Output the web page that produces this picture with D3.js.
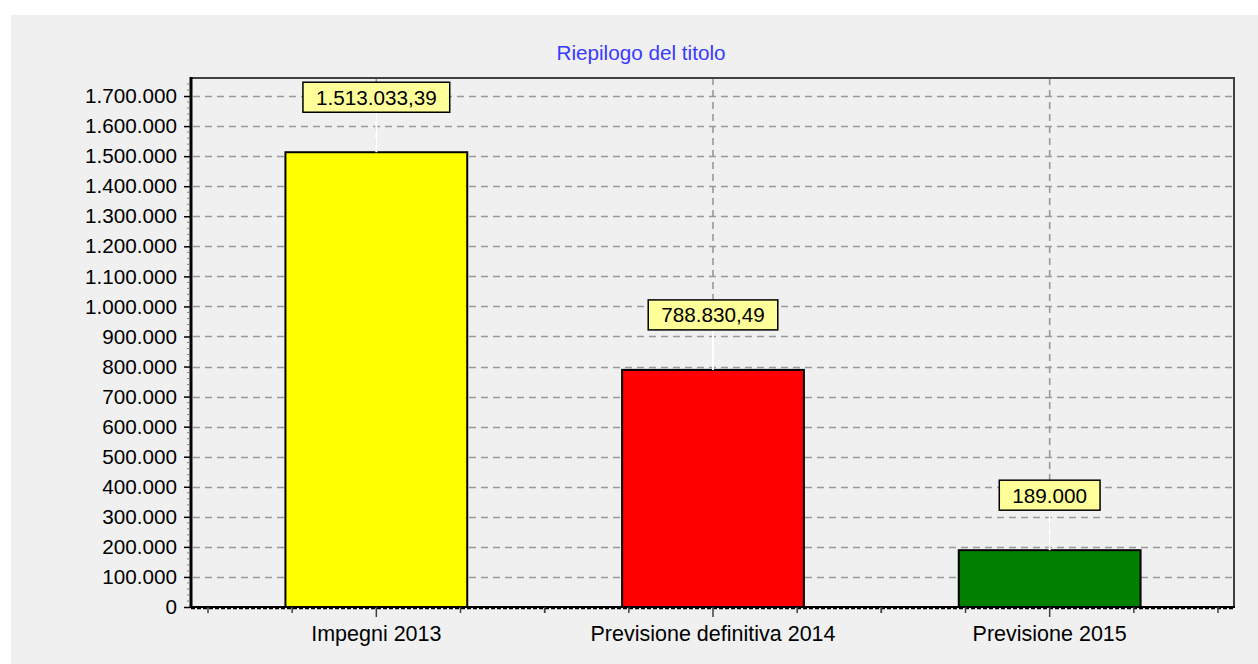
<!DOCTYPE html>
<html><head><meta charset="utf-8">
<script src="https://cdn.jsdelivr.net/npm/d3@7"></script>
<style>body{margin:0;background:#fff;} svg{display:block;} text{font-family:"Liberation Sans",Arial,sans-serif;}</style>
</head><body>
<svg id="c" width="1258" height="664"></svg>
<script>
const title = "Riepilogo del titolo";
const categories = ["Impegni 2013", "Previsione definitiva 2014", "Previsione 2015"];
const values = [1513033.39, 788830.49, 189000];
const valueLabels = ["1.513.033,39", "788.830,49", "189.000"];
const barColors = ["#ffff00", "#ff0000", "#008000"];
const yTicks = [0,100000,200000,300000,400000,500000,600000,700000,800000,900000,1000000,1100000,1200000,1300000,1400000,1500000,1600000,1700000];
const yTickLabels = ["0","100.000","200.000","300.000","400.000","500.000","600.000","700.000","800.000","900.000","1.000.000","1.100.000","1.200.000","1.300.000","1.400.000","1.500.000","1.600.000","1.700.000"];

const svg = d3.select("#c");
const fs = 20.7;
svg.append("rect").attr("x",11).attr("y",15).attr("width",1247).attr("height",649).attr("fill","#f0f0f0");

const L=191, T=78, R=1234, B=607;
const y = d3.scaleLinear().domain([0,1760000]).range([B,T]);
const x = d3.scaleBand().domain(categories).range([208,1218]).paddingInner(0).paddingOuter(0);
const bw = x.bandwidth()*0.54;

svg.append("text").attr("x",641).attr("y",60).attr("text-anchor","middle")
  .attr("fill","#3a3aff").attr("font-size",fs).text(title);

// horizontal gridlines
svg.append("g").selectAll("line").data(yTicks.slice(1)).join("line")
  .attr("x1",L+2).attr("x2",R-2).attr("y1",d=>Math.round(y(d))+0.5).attr("y2",d=>Math.round(y(d))+0.5)
  .attr("stroke","#999").attr("stroke-width",1.6).attr("stroke-dasharray","7,5");
// vertical gridlines at category centers
svg.append("g").selectAll("line").data(categories).join("line")
  .attr("x1",d=>x(d)+x.bandwidth()/2).attr("x2",d=>x(d)+x.bandwidth()/2)
  .attr("y1",T).attr("y2",B)
  .attr("stroke","#999").attr("stroke-width",1.6).attr("stroke-dasharray","7,5");

// bars
svg.append("g").selectAll("rect").data(values).join("rect")
  .attr("x",(d,i)=>x(categories[i])+x.bandwidth()/2-bw/2)
  .attr("y",d=>y(d)).attr("width",bw).attr("height",d=>B-y(d))
  .attr("fill",(d,i)=>barColors[i]).attr("stroke","#000").attr("stroke-width",2);

// plot frame
svg.append("path").attr("d",`M${L},${T}H${R}V${B}`).attr("fill","none").attr("stroke","#404040").attr("stroke-width",2);
svg.append("line").attr("x1",L).attr("x2",L).attr("y1",T-1).attr("y2",B+1).attr("stroke","#000").attr("stroke-width",3);
svg.append("line").attr("x1",L).attr("x2",R+1).attr("y1",B).attr("y2",B).attr("stroke","#000").attr("stroke-width",2);
svg.append("line").attr("x1",L).attr("x2",R+1).attr("y1",B+1.5).attr("y2",B+1.5).attr("stroke","#000").attr("stroke-width",1.5).attr("stroke-dasharray","4,2");

// y axis ticks
const yAxis = d3.axisLeft(y).tickValues(yTicks).tickFormat((d,i)=>yTickLabels[i]).tickSize(6).tickPadding(7);
const ga = svg.append("g").attr("transform",`translate(${L-1},0)`).call(yAxis);
ga.select(".domain").remove();
ga.selectAll("line").attr("stroke","#000").attr("stroke-width",1.5);
ga.selectAll("text").attr("font-size",fs).attr("fill","#000").attr("font-family","Liberation Sans, Arial, sans-serif");
// minor y ticks
const minor = d3.range(0,1760000,20000).filter(v=>v%100000!==0);
svg.append("g").selectAll("line").data(minor).join("line")
  .attr("x1",L-4).attr("x2",L-1).attr("y1",d=>y(d)).attr("y2",d=>y(d)).attr("stroke","#808080").attr("stroke-width",1);

// x axis ticks
const xMinor = [];
categories.forEach(c=>{ for(let k=0;k<=4;k++){ if(k!==2) xMinor.push(x(c)+x.bandwidth()*k/4); } });
svg.append("g").selectAll("line").data(xMinor).join("line")
  .attr("x1",d=>d).attr("x2",d=>d).attr("y1",B).attr("y2",B+6).attr("stroke","#404040").attr("stroke-width",1.5);
svg.append("g").selectAll("line").data(categories).join("line")
  .attr("x1",d=>x(d)+x.bandwidth()/2).attr("x2",d=>x(d)+x.bandwidth()/2).attr("y1",B).attr("y2",B+10).attr("stroke","#404040").attr("stroke-width",1.5);
svg.append("g").selectAll("text").data(categories).join("text")
  .attr("x",d=>x(d)+x.bandwidth()/2).attr("y",641).attr("text-anchor","middle")
  .attr("font-size",21.5).attr("fill","#000").text(d=>d);

// value labels
const lg = svg.append("g").selectAll("g").data(values).join("g");
lg.each(function(d,i){
  const g = d3.select(this);
  const cx = x(categories[i])+x.bandwidth()/2;
  const top = y(d);
  const boxB = top-40, boxH = 30;
  g.append("line").attr("x1",cx).attr("x2",cx).attr("y1",boxB).attr("y2",top).attr("stroke","#fff").attr("stroke-width",2);
  const t = g.append("text").attr("x",cx).attr("y",boxB-boxH/2+7.5).attr("text-anchor","middle")
    .attr("font-size",fs).attr("fill","#000").text(valueLabels[i]);
  const w = t.node().getComputedTextLength()+26;
  g.insert("rect","text").attr("x",cx-w/2).attr("y",boxB-boxH).attr("width",w).attr("height",boxH)
    .attr("fill","#ffff99").attr("stroke","#000").attr("stroke-width",1.5);
});
</script>
</body></html>
